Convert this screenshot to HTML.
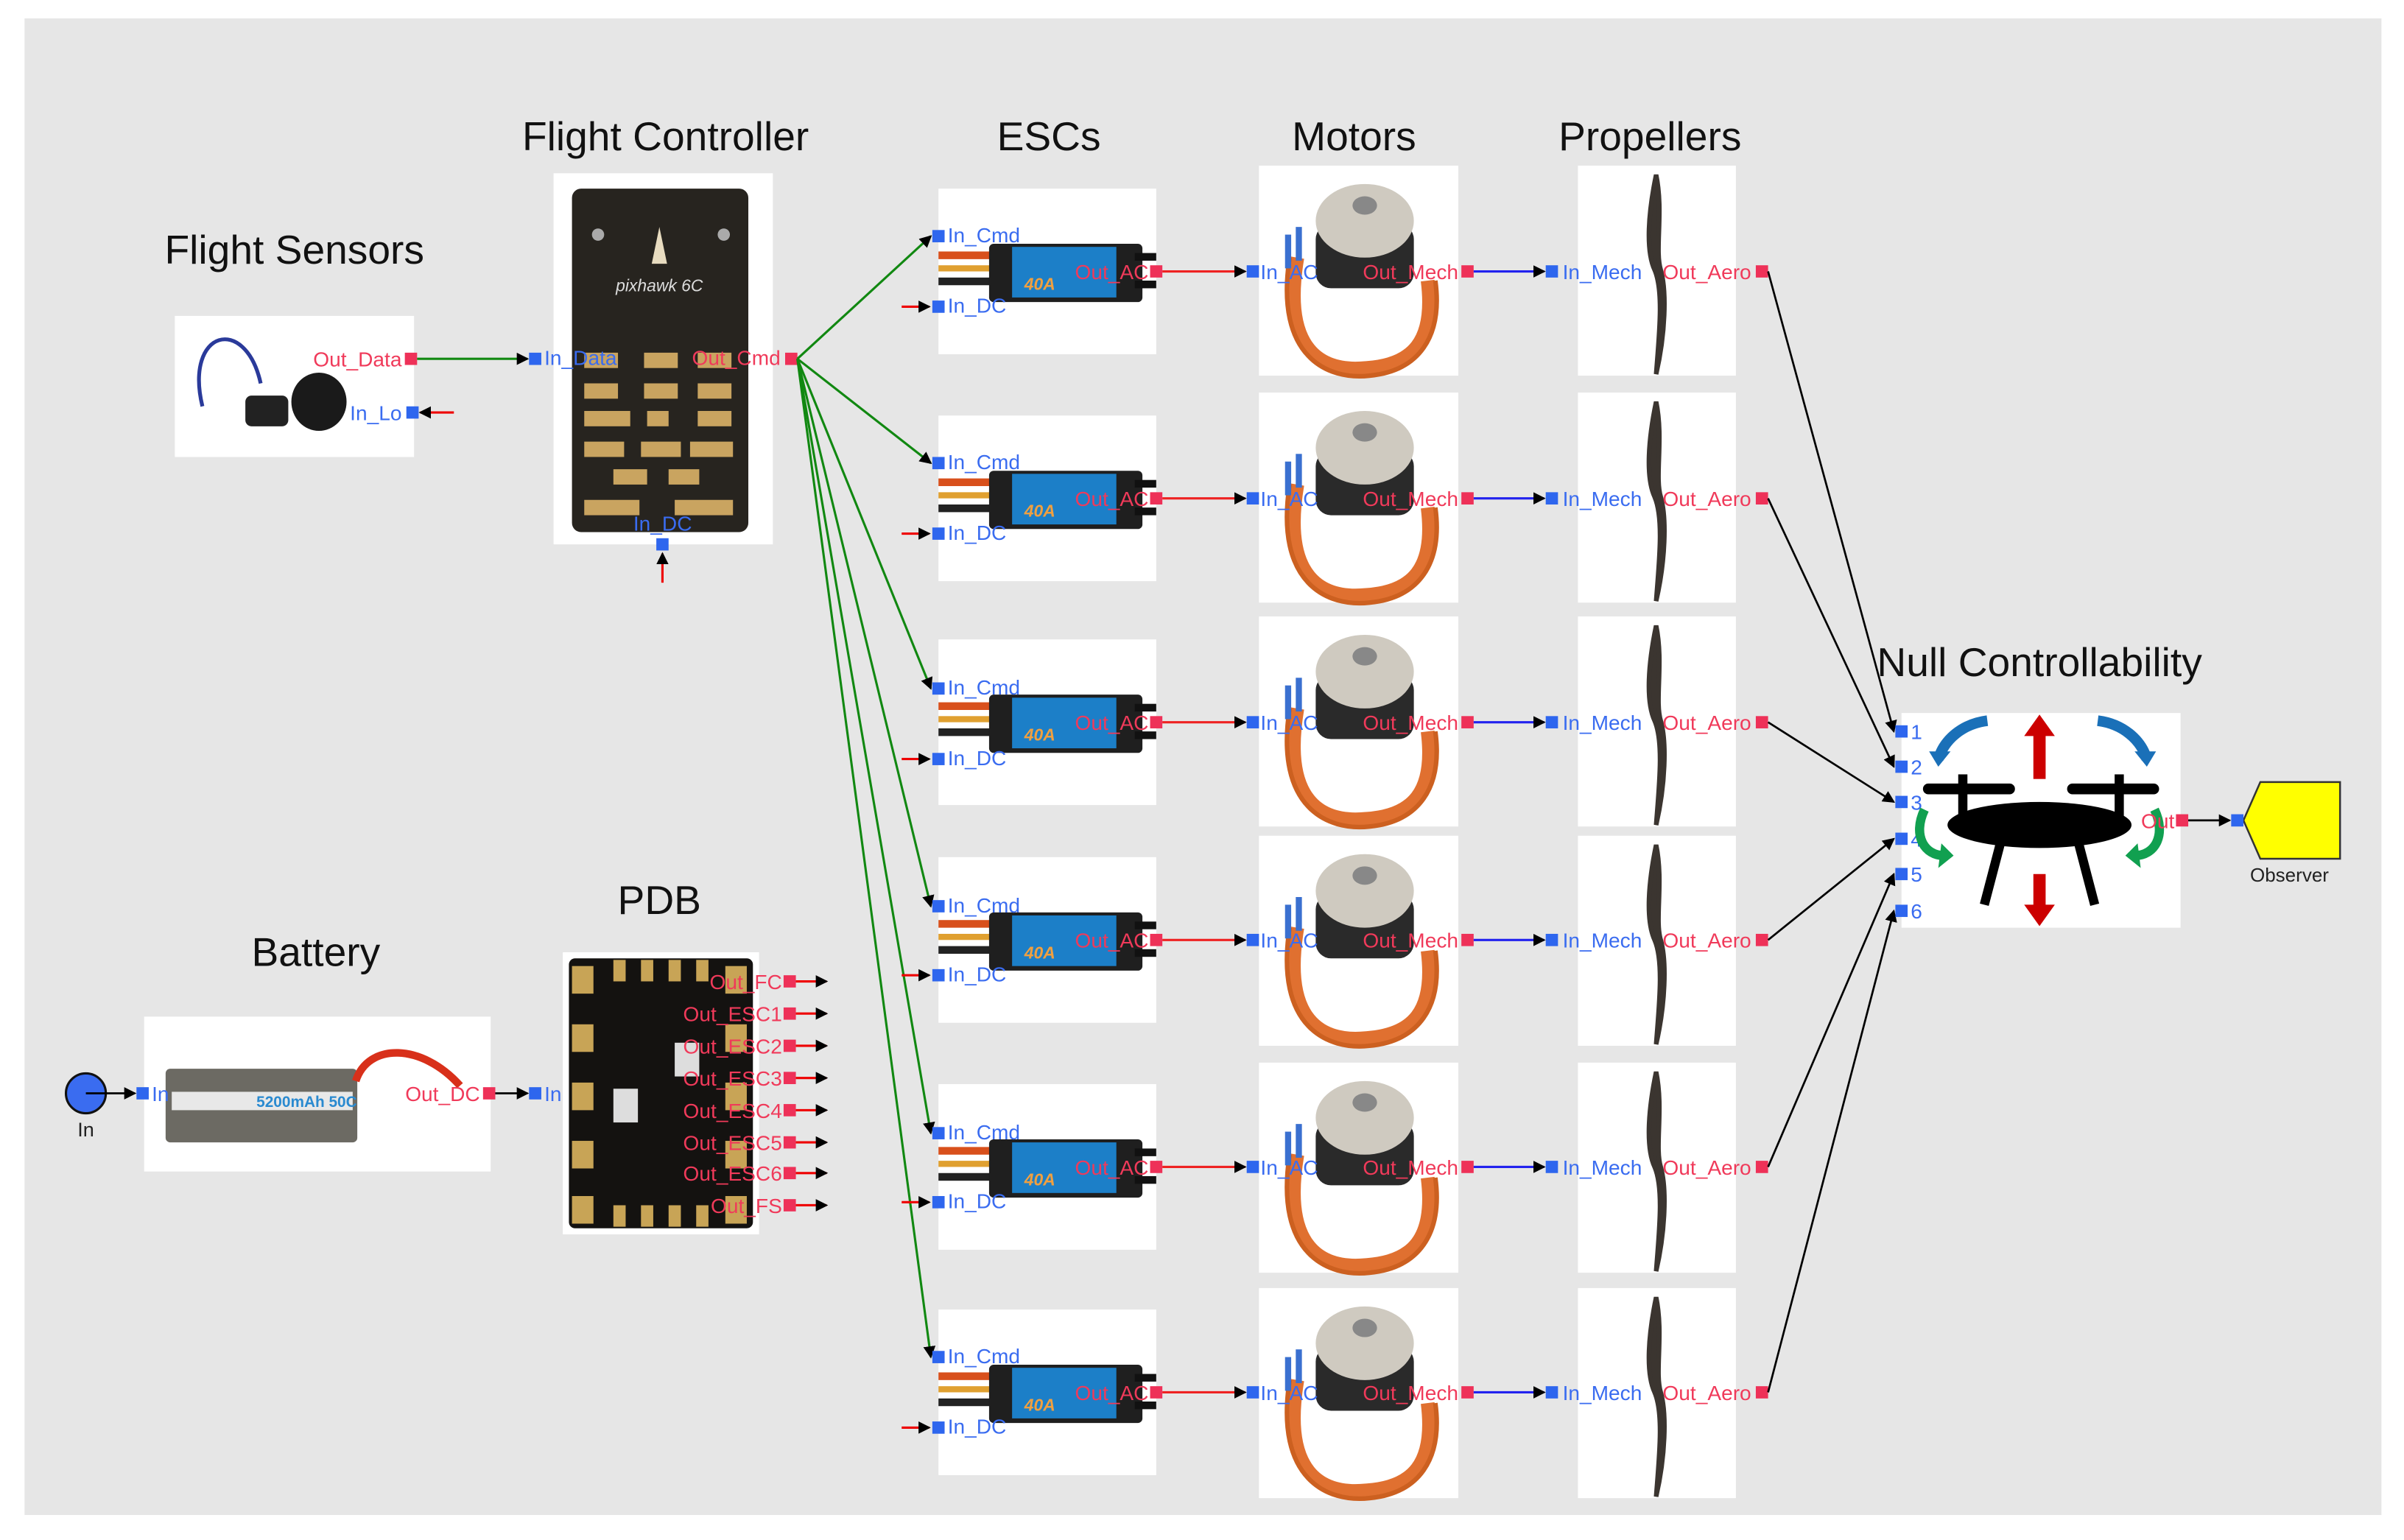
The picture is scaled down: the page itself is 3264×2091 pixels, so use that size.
<!DOCTYPE html>
<html><head><meta charset="utf-8"><style>
html,body{margin:0;padding:0;background:#fff;}
svg{display:block;}
text{font-family:"Liberation Sans",Arial,sans-serif;}
.t{font-size:26.5px;fill:#111;}
.b{font-size:13.5px;fill:#3a6cf0;}
.r{font-size:13.5px;fill:#f03a5a;}
.pb{fill:#2e66ee;}
.pr{fill:#ee3158;}
</style></head><body>
<svg width="3264" height="2091" viewBox="0 0 1567.7 1004.3" xmlns="http://www.w3.org/2000/svg">
<defs>
<marker id="ak" markerWidth="8" markerHeight="8" refX="7" refY="4" orient="auto" markerUnits="userSpaceOnUse"><path d="M0,0 L8,4 L0,8 z" fill="#000"/></marker>
<g id="esc">
 <rect x="0" y="0" width="142" height="108" fill="#fff"/>
 <rect x="0" y="41" width="40" height="5" fill="#d8501c"/>
 <rect x="0" y="50" width="40" height="4" fill="#e0a030"/>
 <rect x="0" y="58" width="40" height="5" fill="#222"/>
 <rect x="33" y="36" width="100" height="38" rx="3" fill="#1f1f1f"/>
 <rect x="48" y="38" width="68" height="33" fill="#1c7fc8"/>
 <rect x="128" y="42" width="14" height="5" fill="#111"/>
 <rect x="128" y="60" width="14" height="5" fill="#111"/>
 <text x="56" y="66" style="font-size:11px;font-weight:bold;font-style:italic;fill:#f0a040">40A</text>
</g>
<g id="mot">
 <rect x="0" y="0" width="130" height="137" fill="#fff"/>
 <path d="M25,60 C15,120 40,135 70,132 C100,130 115,115 110,75" fill="none" stroke="#e07030" stroke-width="9"/>
 <path d="M20,60 C10,125 45,140 72,137 C104,134 120,112 115,75" fill="none" stroke="#cc6020" stroke-width="3"/>
 <rect x="37" y="38" width="64" height="42" rx="10" fill="#2a2a2a"/>
 <ellipse cx="69" cy="36" rx="32" ry="24" fill="#cfcac0"/>
 <ellipse cx="69" cy="26" rx="8" ry="6" fill="#888"/>
 <rect x="17" y="45" width="4" height="22" fill="#3a70d0"/>
 <rect x="24" y="40" width="4" height="22" fill="#3a70d0"/>
</g>
<g id="prop">
 <rect x="0" y="0" width="103" height="137" fill="#fff"/>
 <path d="M51,6 C46,30 44,55 50,68 C56,82 53,110 51,136 C57,110 58,82 54,68 C50,55 56,30 51,6 z" fill="#3b3530" stroke="#3b3530" stroke-width="3"/>
</g>
</defs>
<rect x="0" y="0" width="1567.7" height="1004.3" fill="#fff"/>
<rect x="16" y="12" width="1537" height="976" fill="#e6e6e6"/>

<text class="t" x="192" y="172" text-anchor="middle">Flight Sensors</text>
<text class="t" x="434" y="98" text-anchor="middle">Flight Controller</text>
<text class="t" x="684" y="98" text-anchor="middle">ESCs</text>
<text class="t" x="883" y="98" text-anchor="middle">Motors</text>
<text class="t" x="1076" y="98" text-anchor="middle">Propellers</text>
<text class="t" x="1330" y="441" text-anchor="middle">Null Controllability</text>
<text class="t" x="430" y="596" text-anchor="middle">PDB</text>
<text class="t" x="206" y="630" text-anchor="middle">Battery</text>

<rect x="114" y="206" width="156" height="92" fill="#fff"/>
<path d="M132,265 C120,215 160,205 170,250" fill="none" stroke="#2a3a9a" stroke-width="2.5"/>
<rect x="160" y="258" width="28" height="20" rx="4" fill="#222"/>
<ellipse cx="208" cy="262" rx="18" ry="19" fill="#1a1a1a"/>
<text class="r" x="262" y="239" text-anchor="end">Out_Data</text>
<rect class="pr" x="264" y="230" width="8" height="8"/>
<line x1="272" y1="234" x2="344" y2="234" stroke="#118811" stroke-width="1.5" marker-end="url(#ak)"/>
<text class="b" x="262" y="274" text-anchor="end">In_Lo</text>
<rect class="pb" x="265" y="265" width="8" height="8"/>
<line x1="296" y1="269" x2="274" y2="269" stroke="#e00" stroke-width="1.5" marker-end="url(#ak)"/>

<rect x="361" y="113" width="143" height="242" fill="#fff"/>
<rect x="373" y="123" width="115" height="224" rx="6" fill="#27241f"/>
<path d="M430,148 L425,172 L435,172 z" fill="#e8dcc0"/>
<text x="430" y="190" text-anchor="middle" style="font-size:11px;font-style:italic;fill:#ddd">pixhawk 6C</text>
<g fill="#c9a460">
<rect x="381" y="230" width="22" height="10"/><rect x="420" y="230" width="22" height="10"/><rect x="455" y="230" width="22" height="10"/>
<rect x="381" y="250" width="22" height="10"/><rect x="420" y="250" width="22" height="10"/><rect x="455" y="250" width="22" height="10"/>
<rect x="381" y="268" width="30" height="10"/><rect x="422" y="268" width="14" height="10"/><rect x="455" y="268" width="22" height="10"/>
<rect x="381" y="288" width="26" height="10"/><rect x="418" y="288" width="26" height="10"/><rect x="450" y="288" width="28" height="10"/>
<rect x="400" y="306" width="22" height="10"/><rect x="436" y="306" width="20" height="10"/>
<rect x="381" y="326" width="36" height="10"/><rect x="440" y="326" width="38" height="10"/>
</g>
<circle cx="390" cy="153" r="4" fill="#aaa"/><circle cx="472" cy="153" r="4" fill="#aaa"/>
<text class="b" x="355" y="238">In_Data</text>
<rect class="pb" x="345" y="230" width="8" height="8"/>
<text class="r" x="509" y="238" text-anchor="end">Out_Cmd</text>
<rect class="pr" x="512" y="230" width="8" height="8"/>
<text class="b" x="413" y="346">In_DC</text>
<rect class="pb" x="428" y="351" width="8" height="8"/>
<line x1="432" y1="380" x2="432" y2="361" stroke="#e00" stroke-width="1.5" marker-end="url(#ak)"/>

<g stroke="#118811" stroke-width="1.5" fill="none" marker-end="url(#ak)">
<line x1="520" y1="234" x2="607" y2="154"/>
<line x1="520" y1="234" x2="607" y2="302"/>
<line x1="520" y1="234" x2="607" y2="449"/>
<line x1="520" y1="234" x2="607" y2="591"/>
<line x1="520" y1="234" x2="607" y2="739"/>
<line x1="520" y1="234" x2="607" y2="885"/>
</g>

<g>
<use href="#esc" x="612" y="123"/><use href="#mot" x="821" y="108"/><use href="#prop" x="1029" y="108"/>
<use href="#esc" x="612" y="271"/><use href="#mot" x="821" y="256"/><use href="#prop" x="1029" y="256"/>
<use href="#esc" x="612" y="417"/><use href="#mot" x="821" y="402"/><use href="#prop" x="1029" y="402"/>
<use href="#esc" x="612" y="559"/><use href="#mot" x="821" y="545"/><use href="#prop" x="1029" y="545"/>
<use href="#esc" x="612" y="707"/><use href="#mot" x="821" y="693"/><use href="#prop" x="1029" y="693"/>
<use href="#esc" x="612" y="854"/><use href="#mot" x="821" y="840"/><use href="#prop" x="1029" y="840"/>
</g>

<g>
<rect class="pb" x="608" y="150" width="8" height="8"/><text class="b" x="618" y="158">In_Cmd</text>
<rect class="pb" x="608" y="196" width="8" height="8"/><text class="b" x="618" y="204">In_DC</text>
<line x1="588" y1="200" x2="606" y2="200" stroke="#e00" stroke-width="1.5" marker-end="url(#ak)"/>
<text class="r" x="749" y="182" text-anchor="end">Out_AC</text><rect class="pr" x="750" y="173" width="8" height="8"/>
<line x1="758" y1="177" x2="812" y2="177" stroke="#e22" stroke-width="1.5" marker-end="url(#ak)"/>
<rect class="pb" x="813" y="173" width="8" height="8"/><text class="b" x="822" y="182">In_AC</text>
<text class="r" x="951" y="182" text-anchor="end">Out_Mech</text><rect class="pr" x="953" y="173" width="8" height="8"/>
<line x1="961" y1="177" x2="1007" y2="177" stroke="#22e" stroke-width="1.5" marker-end="url(#ak)"/>
<rect class="pb" x="1008" y="173" width="8" height="8"/><text class="b" x="1019" y="182">In_Mech</text>
<text class="r" x="1142" y="182" text-anchor="end">Out_Aero</text><rect class="pr" x="1145" y="173" width="8" height="8"/>

<rect class="pb" x="608" y="298" width="8" height="8"/><text class="b" x="618" y="306">In_Cmd</text>
<rect class="pb" x="608" y="344" width="8" height="8"/><text class="b" x="618" y="352">In_DC</text>
<line x1="588" y1="348" x2="606" y2="348" stroke="#e00" stroke-width="1.5" marker-end="url(#ak)"/>
<text class="r" x="749" y="330" text-anchor="end">Out_AC</text><rect class="pr" x="750" y="321" width="8" height="8"/>
<line x1="758" y1="325" x2="812" y2="325" stroke="#e22" stroke-width="1.5" marker-end="url(#ak)"/>
<rect class="pb" x="813" y="321" width="8" height="8"/><text class="b" x="822" y="330">In_AC</text>
<text class="r" x="951" y="330" text-anchor="end">Out_Mech</text><rect class="pr" x="953" y="321" width="8" height="8"/>
<line x1="961" y1="325" x2="1007" y2="325" stroke="#22e" stroke-width="1.5" marker-end="url(#ak)"/>
<rect class="pb" x="1008" y="321" width="8" height="8"/><text class="b" x="1019" y="330">In_Mech</text>
<text class="r" x="1142" y="330" text-anchor="end">Out_Aero</text><rect class="pr" x="1145" y="321" width="8" height="8"/>

<rect class="pb" x="608" y="445" width="8" height="8"/><text class="b" x="618" y="453">In_Cmd</text>
<rect class="pb" x="608" y="491" width="8" height="8"/><text class="b" x="618" y="499">In_DC</text>
<line x1="588" y1="495" x2="606" y2="495" stroke="#e00" stroke-width="1.5" marker-end="url(#ak)"/>
<text class="r" x="749" y="476" text-anchor="end">Out_AC</text><rect class="pr" x="750" y="467" width="8" height="8"/>
<line x1="758" y1="471" x2="812" y2="471" stroke="#e22" stroke-width="1.5" marker-end="url(#ak)"/>
<rect class="pb" x="813" y="467" width="8" height="8"/><text class="b" x="822" y="476">In_AC</text>
<text class="r" x="951" y="476" text-anchor="end">Out_Mech</text><rect class="pr" x="953" y="467" width="8" height="8"/>
<line x1="961" y1="471" x2="1007" y2="471" stroke="#22e" stroke-width="1.5" marker-end="url(#ak)"/>
<rect class="pb" x="1008" y="467" width="8" height="8"/><text class="b" x="1019" y="476">In_Mech</text>
<text class="r" x="1142" y="476" text-anchor="end">Out_Aero</text><rect class="pr" x="1145" y="467" width="8" height="8"/>

<rect class="pb" x="608" y="587" width="8" height="8"/><text class="b" x="618" y="595">In_Cmd</text>
<rect class="pb" x="608" y="632" width="8" height="8"/><text class="b" x="618" y="640">In_DC</text>
<line x1="588" y1="636" x2="606" y2="636" stroke="#e00" stroke-width="1.5" marker-end="url(#ak)"/>
<text class="r" x="749" y="618" text-anchor="end">Out_AC</text><rect class="pr" x="750" y="609" width="8" height="8"/>
<line x1="758" y1="613" x2="812" y2="613" stroke="#e22" stroke-width="1.5" marker-end="url(#ak)"/>
<rect class="pb" x="813" y="609" width="8" height="8"/><text class="b" x="822" y="618">In_AC</text>
<text class="r" x="951" y="618" text-anchor="end">Out_Mech</text><rect class="pr" x="953" y="609" width="8" height="8"/>
<line x1="961" y1="613" x2="1007" y2="613" stroke="#22e" stroke-width="1.5" marker-end="url(#ak)"/>
<rect class="pb" x="1008" y="609" width="8" height="8"/><text class="b" x="1019" y="618">In_Mech</text>
<text class="r" x="1142" y="618" text-anchor="end">Out_Aero</text><rect class="pr" x="1145" y="609" width="8" height="8"/>

<rect class="pb" x="608" y="735" width="8" height="8"/><text class="b" x="618" y="743">In_Cmd</text>
<rect class="pb" x="608" y="780" width="8" height="8"/><text class="b" x="618" y="788">In_DC</text>
<line x1="588" y1="784" x2="606" y2="784" stroke="#e00" stroke-width="1.5" marker-end="url(#ak)"/>
<text class="r" x="749" y="766" text-anchor="end">Out_AC</text><rect class="pr" x="750" y="757" width="8" height="8"/>
<line x1="758" y1="761" x2="812" y2="761" stroke="#e22" stroke-width="1.5" marker-end="url(#ak)"/>
<rect class="pb" x="813" y="757" width="8" height="8"/><text class="b" x="822" y="766">In_AC</text>
<text class="r" x="951" y="766" text-anchor="end">Out_Mech</text><rect class="pr" x="953" y="757" width="8" height="8"/>
<line x1="961" y1="761" x2="1007" y2="761" stroke="#22e" stroke-width="1.5" marker-end="url(#ak)"/>
<rect class="pb" x="1008" y="757" width="8" height="8"/><text class="b" x="1019" y="766">In_Mech</text>
<text class="r" x="1142" y="766" text-anchor="end">Out_Aero</text><rect class="pr" x="1145" y="757" width="8" height="8"/>

<rect class="pb" x="608" y="881" width="8" height="8"/><text class="b" x="618" y="889">In_Cmd</text>
<rect class="pb" x="608" y="927" width="8" height="8"/><text class="b" x="618" y="935">In_DC</text>
<line x1="588" y1="931" x2="606" y2="931" stroke="#e00" stroke-width="1.5" marker-end="url(#ak)"/>
<text class="r" x="749" y="913" text-anchor="end">Out_AC</text><rect class="pr" x="750" y="904" width="8" height="8"/>
<line x1="758" y1="908" x2="812" y2="908" stroke="#e22" stroke-width="1.5" marker-end="url(#ak)"/>
<rect class="pb" x="813" y="904" width="8" height="8"/><text class="b" x="822" y="913">In_AC</text>
<text class="r" x="951" y="913" text-anchor="end">Out_Mech</text><rect class="pr" x="953" y="904" width="8" height="8"/>
<line x1="961" y1="908" x2="1007" y2="908" stroke="#22e" stroke-width="1.5" marker-end="url(#ak)"/>
<rect class="pb" x="1008" y="904" width="8" height="8"/><text class="b" x="1019" y="913">In_Mech</text>
<text class="r" x="1142" y="913" text-anchor="end">Out_Aero</text><rect class="pr" x="1145" y="904" width="8" height="8"/>
</g>

<rect x="1240" y="465" width="182" height="140" fill="#fff"/>
<g stroke="#000" stroke-width="1.3" marker-end="url(#ak)">
<line x1="1153" y1="177" x2="1235" y2="477"/>
<line x1="1153" y1="325" x2="1235" y2="500"/>
<line x1="1153" y1="471" x2="1235" y2="523"/>
<line x1="1153" y1="613" x2="1235" y2="547"/>
<line x1="1153" y1="761" x2="1235" y2="570"/>
<line x1="1153" y1="908" x2="1235" y2="594"/>
</g>
<rect class="pb" x="1236" y="473" width="8" height="8"/><text class="b" x="1246" y="482">1</text>
<rect class="pb" x="1236" y="496" width="8" height="8"/><text class="b" x="1246" y="505">2</text>
<rect class="pb" x="1236" y="519" width="8" height="8"/><text class="b" x="1246" y="528">3</text>
<rect class="pb" x="1236" y="543" width="8" height="8"/><text class="b" x="1246" y="552">4</text>
<rect class="pb" x="1236" y="566" width="8" height="8"/><text class="b" x="1246" y="575">5</text>
<rect class="pb" x="1236" y="590" width="8" height="8"/><text class="b" x="1246" y="599">6</text>
<path d="M1296,470 C1280,472 1268,482 1264,495" fill="none" stroke="#1a70b8" stroke-width="7"/>
<path d="M1258,490 L1264,500 L1272,490 z" fill="#1a70b8"/>
<path d="M1368,470 C1384,472 1396,482 1400,495" fill="none" stroke="#1a70b8" stroke-width="7"/>
<path d="M1392,490 L1400,500 L1406,490 z" fill="#1a70b8"/>
<rect x="1326" y="478" width="8" height="30" fill="#c00"/><path d="M1320,480 L1330,466 L1340,480 z" fill="#c00"/>
<rect x="1326" y="570" width="8" height="22" fill="#c00"/><path d="M1320,590 L1330,604 L1340,590 z" fill="#c00"/>
<rect x="1254" y="511" width="60" height="7" rx="3.5" fill="#000"/>
<rect x="1348" y="511" width="60" height="7" rx="3.5" fill="#000"/>
<rect x="1277" y="505" width="6" height="30" fill="#000"/><rect x="1379" y="505" width="6" height="30" fill="#000"/>
<ellipse cx="1330" cy="538" rx="60" ry="15" fill="#000"/>
<path d="M1305,548 L1294,590" stroke="#000" stroke-width="6"/><path d="M1355,548 L1366,590" stroke="#000" stroke-width="6"/>
<path d="M1255,528 C1247,545 1255,558 1268,558" fill="none" stroke="#11a050" stroke-width="6"/>
<path d="M1266,550 L1274,558 L1264,566 z" fill="#11a050"/>
<path d="M1405,528 C1413,545 1405,558 1392,558" fill="none" stroke="#11a050" stroke-width="6"/>
<path d="M1394,550 L1386,558 L1396,566 z" fill="#11a050"/>
<text class="r" x="1418" y="540" text-anchor="end">Out</text>
<rect class="pr" x="1419" y="531" width="8" height="8"/>
<line x1="1427" y1="535" x2="1454" y2="535" stroke="#000" stroke-width="1.3" marker-end="url(#ak)"/>
<polygon points="1463,535 1474,510 1526,510 1526,560 1474,560" fill="#ffff00" stroke="#333" stroke-width="1.2"/>
<rect class="pb" x="1455" y="531" width="8" height="8"/>
<text x="1493" y="575" text-anchor="middle" style="font-size:12.5px;fill:#222">Observer</text>

<rect x="94" y="663" width="226" height="101" fill="#fff"/>
<rect x="108" y="697" width="125" height="48" rx="3" fill="#6c6a63"/>
<rect x="112" y="712" width="118" height="12" fill="#e8e8e8"/>
<text x="200" y="722" text-anchor="middle" style="font-size:10px;font-weight:bold;fill:#2a8ad0">5200mAh 50C</text>
<path d="M232,705 C240,680 275,680 300,708" fill="none" stroke="#d8301a" stroke-width="5"/>
<circle cx="56" cy="713" r="13" fill="#3a6cf0" stroke="#111" stroke-width="1.5"/>
<text x="56" y="741" text-anchor="middle" style="font-size:13px;fill:#222">In</text>
<line x1="56" y1="713" x2="88" y2="713" stroke="#000" stroke-width="1.3" marker-end="url(#ak)"/>
<rect class="pb" x="89" y="709" width="8" height="8"/><text class="b" x="99" y="718">In</text>
<text class="r" x="313" y="718" text-anchor="end">Out_DC</text>
<rect class="pr" x="315" y="709" width="8" height="8"/>
<line x1="323" y1="713" x2="344" y2="713" stroke="#000" stroke-width="1.3" marker-end="url(#ak)"/>
<rect class="pb" x="345" y="709" width="8" height="8"/><text class="b" x="355" y="718">In</text>

<rect x="367" y="621" width="128" height="184" fill="#fff"/>
<rect x="371" y="625" width="120" height="176" rx="4" fill="#141210"/>
<g fill="#c8a456">
<rect x="373" y="630" width="14" height="18"/><rect x="373" y="668" width="14" height="18"/><rect x="373" y="706" width="14" height="18"/><rect x="373" y="744" width="14" height="18"/><rect x="373" y="780" width="14" height="18"/>
<rect x="473" y="630" width="14" height="18"/><rect x="473" y="668" width="14" height="18"/><rect x="473" y="706" width="14" height="18"/><rect x="473" y="744" width="14" height="18"/><rect x="473" y="780" width="14" height="18"/>
<rect x="400" y="626" width="8" height="14"/><rect x="418" y="626" width="8" height="14"/><rect x="436" y="626" width="8" height="14"/><rect x="454" y="626" width="8" height="14"/>
<rect x="400" y="786" width="8" height="14"/><rect x="418" y="786" width="8" height="14"/><rect x="436" y="786" width="8" height="14"/><rect x="454" y="786" width="8" height="14"/>
</g>
<rect x="400" y="710" width="16" height="22" fill="#ddd"/><rect x="440" y="680" width="16" height="22" fill="#ddd"/>
<g>
<text class="r" x="510" y="645" text-anchor="end">Out_FC</text><rect class="pr" x="511" y="636" width="8" height="8"/>
<text class="r" x="510" y="666" text-anchor="end">Out_ESC1</text><rect class="pr" x="511" y="657" width="8" height="8"/>
<text class="r" x="510" y="687" text-anchor="end">Out_ESC2</text><rect class="pr" x="511" y="678" width="8" height="8"/>
<text class="r" x="510" y="708" text-anchor="end">Out_ESC3</text><rect class="pr" x="511" y="699" width="8" height="8"/>
<text class="r" x="510" y="729" text-anchor="end">Out_ESC4</text><rect class="pr" x="511" y="720" width="8" height="8"/>
<text class="r" x="510" y="750" text-anchor="end">Out_ESC5</text><rect class="pr" x="511" y="741" width="8" height="8"/>
<text class="r" x="510" y="770" text-anchor="end">Out_ESC6</text><rect class="pr" x="511" y="761" width="8" height="8"/>
<text class="r" x="510" y="791" text-anchor="end">Out_FS</text><rect class="pr" x="511" y="782" width="8" height="8"/>
</g>
<g stroke="#e00" stroke-width="1.5" marker-end="url(#ak)">
<line x1="519" y1="640" x2="539" y2="640"/><line x1="519" y1="661" x2="539" y2="661"/>
<line x1="519" y1="682" x2="539" y2="682"/><line x1="519" y1="703" x2="539" y2="703"/>
<line x1="519" y1="724" x2="539" y2="724"/><line x1="519" y1="745" x2="539" y2="745"/>
<line x1="519" y1="765" x2="539" y2="765"/><line x1="519" y1="786" x2="539" y2="786"/>
</g>
</svg>
</body></html>
